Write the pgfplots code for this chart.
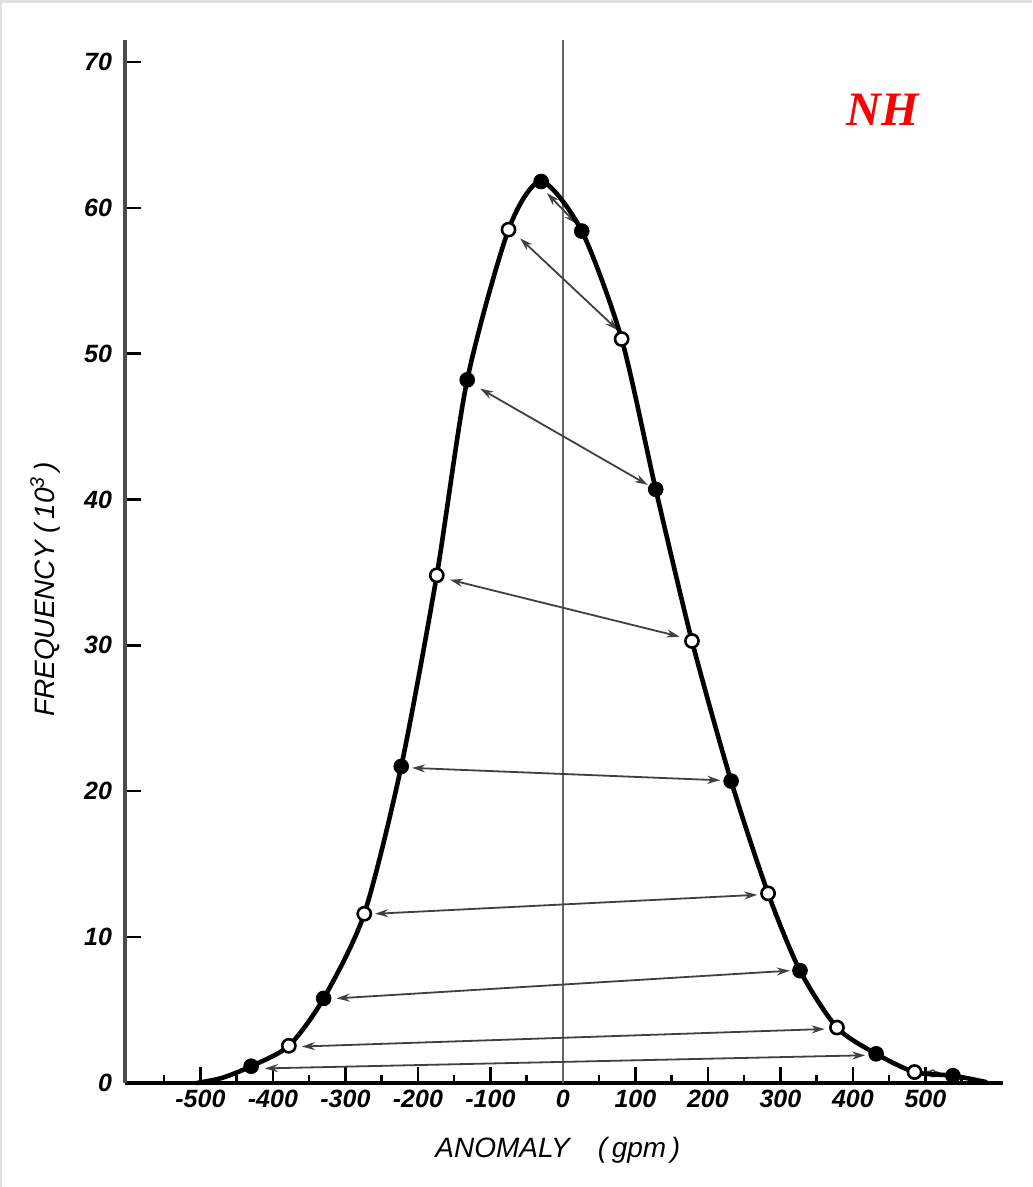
\documentclass[border=0pt]{standalone}
\usepackage{pgfplots}
\pgfplotsset{compat=1.18}
\usepackage{fontspec}
\setmainfont{Liberation Sans}
\newfontfamily\nhfont{Liberation Serif}
\usetikzlibrary{arrows.meta}
\begin{document}
\begin{tikzpicture}
\path[use as bounding box] (-62.5pt,-52pt) rectangle (453.5pt,541.5pt);
\fill[gray!25] (-62.5pt,-52pt) rectangle (-61.3pt,541.5pt);
\fill[gray!25] (-62.5pt,539.8pt) rectangle (453.5pt,541.5pt);
\begin{axis}[
  scale only axis, width=439pt, height=521.5pt,
  xmin=-604, xmax=607, ymin=0, ymax=71.5,
  axis x line*=bottom, axis y line*=left,
  x axis line style={line width=2pt,-},
  y axis line style={line width=2.2pt, black!70,-},
  xtick={-500,-400,...,500},
  xticklabels={-500,-400,-300,-200,-100,0,100,200,300,400,500},
  minor xtick={-550,-450,...,550},
  ytick={0,10,...,70},
  yticklabels={0,10,20,30,40,50,60,70},
  tick align=inside, major tick length=8pt, minor tick length=4pt,
  every tick/.style={line width=1.2pt, black},
  ticklabel style={font=\fontsize{12.5}{14}\selectfont\bfseries\itshape},
  yticklabel style={xshift=-3pt},
  xlabel={\itshape ANOMALY\quad(\,gpm\,)},
  ylabel={\itshape FREQUENCY (\,10\textsuperscript{3}\,)},
  label style={font=\fontsize{14}{16}\selectfont},
  xlabel style={at={(axis description cs:0.493,0)}, anchor=center, yshift=-33.5pt},
  ylabel style={at={(axis description cs:-0.091,0.473)}, anchor=center},
  clip=false,
  arr/.style={<->, >={Stealth[length=6.5pt,width=4pt]}, line width=0.9pt, black!75},
]
% zero line
\addplot[black!60, line width=0.9pt] coordinates {(0,0) (0,71.5)};
% arrows
\addplot[arr] coordinates {(-22,61.0) (19,58.9)};
\addplot[arr] coordinates {(-59,57.9) (76,51.6)};
\addplot[arr] coordinates {(-114,47.6) (117,41.0)};
\addplot[arr] coordinates {(-156,34.5) (161,30.6)};
\addplot[arr] coordinates {(-208,21.6) (217,20.75)};
\addplot[arr] coordinates {(-259,11.6) (268,12.9)};
\addplot[arr] coordinates {(-312,5.8) (313,7.7)};
\addplot[arr] coordinates {(-360,2.5) (361,3.7)};
\addplot[arr] coordinates {(-411,1.0) (417,1.9)};
\addplot[arr] coordinates {(494,0.72) (526,0.6)};
% curve
\addplot[smooth, tension=0.45, line width=2.3pt, black] coordinates {
(-505,0) (-470,0.35) (-430,1.15) (-378,2.55) (-330,5.8) (-274,11.6)
(-223,21.7) (-174,34.8) (-132,48.2) (-75,58.5) (-30,61.8) (26,58.4)
(81,51.0) (128,40.7) (178,30.3) (232,20.7) (283,13.0) (327,7.7)
(378,3.8) (432,2.0) (485,0.75) (538,0.5) (585,0.05)};
% filled points
\addplot[only marks, mark=*, mark size=3.7pt, black] coordinates {
(-430,1.15) (-330,5.8) (-223,21.7) (-132,48.2) (-30,61.8) (26,58.4)
(128,40.7) (232,20.7) (327,7.7) (432,2.0) (538,0.5)};
% open points
\addplot[only marks, mark=*, mark size=3.3pt, mark options={fill=white, draw=black, line width=1.3pt}] coordinates {
(-378,2.55) (-274,11.6) (-174,34.8) (-75,58.5) (81,51.0) (178,30.3)
(283,13.0) (378,3.8) (485,0.75)};
\node[text=red, font={\nhfont\bfseries\itshape\fontsize{24}{28}\selectfont}] at (axis cs:441,66.7) {NH};
\end{axis}
\end{tikzpicture}
\end{document}
